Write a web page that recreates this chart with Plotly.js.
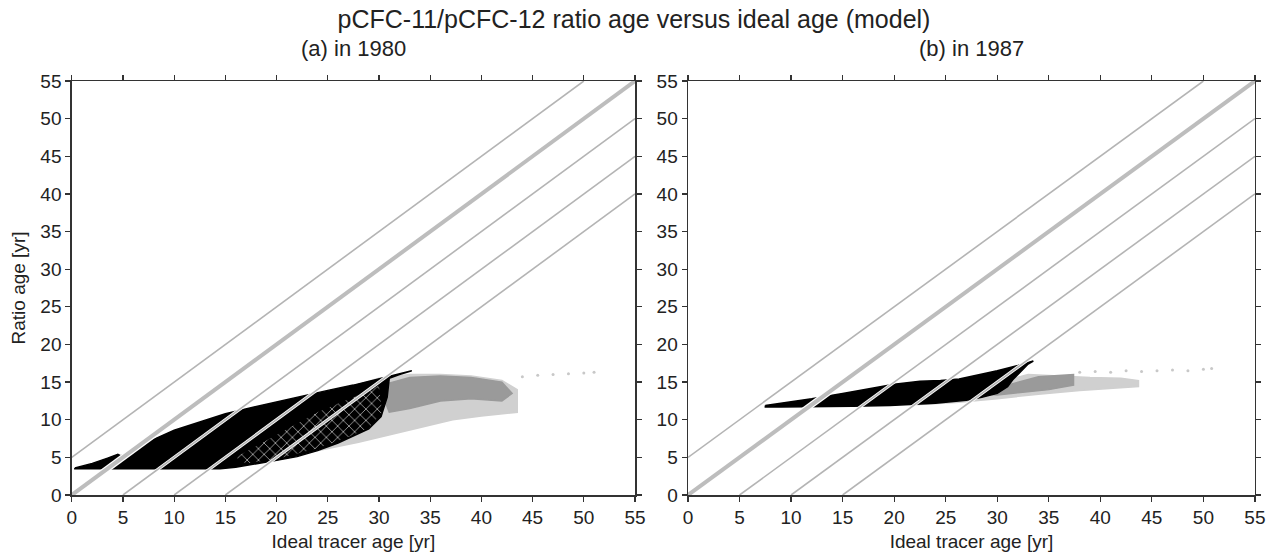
<!DOCTYPE html>
<html>
<head>
<meta charset="utf-8">
<script src="https://cdn.plot.ly/plotly-3.0.1.min.js"></script>
<style>html,body{margin:0;padding:0;background:#fff;}#chart{width:1268px;height:556px;}</style>
</head>
<body>
<div id="chart"></div>
<script>
// ---- Data ----
// Reference lines: ratio age = ideal age + offset
const lineOffsets = [5, 0, -5, -10, -15];

// Panel (a) 1980 — outlines of the point clouds
const lightA_x = [14, 18, 23, 28, 33, 37.2, 40, 43.5, 43.5, 42, 39, 36, 33, 30, 25];
const lightA_y = [3.7, 4.5, 5.6, 7.0, 8.6, 10.0, 10.5, 11.0, 14.0, 15.2, 15.8, 16.0, 16.0, 15.5, 13.5];
const medA_x = [30, 33, 36, 39, 42, 43, 42, 39, 36, 33, 31];
const medA_y = [14.5, 15.6, 15.8, 15.6, 15.0, 13.5, 12.5, 12.8, 12.5, 11.5, 11.0];
const blackA_x = [0.3, 2, 3.5, 4.5, 4.8, 6, 8, 10, 12.5, 15, 17.5, 20, 22.5, 25, 27.5, 29.5, 31, 33.2, 32, 31, 30.8, 30.2, 29, 27, 26, 24, 22, 20, 18, 16, 14.5, 10, 5, 0.3];
const blackA_y = [3.6, 4.2, 4.9, 5.4, 5.2, 6.0, 7.4, 8.6, 9.7, 10.8, 11.6, 12.4, 13.1, 13.9, 14.6, 15.3, 15.8, 16.5, 16.0, 15.5, 13.0, 10.4, 8.8, 7.6, 6.9, 5.9, 5.1, 4.6, 4.1, 3.7, 3.5, 3.5, 3.5, 3.5];
const hatchA_x = [16, 20, 24, 28, 30, 30.3, 29, 27, 24, 20, 17];
const hatchA_y = [5.0, 8.0, 11.0, 13.3, 14.5, 11.0, 8.9, 7.7, 6.2, 4.8, 4.2];
const tailA_x = [44, 45.5, 47, 48.5, 50, 51];
const tailA_y = [15.7, 15.9, 16.0, 16.1, 16.2, 16.3];

// Panel (b) 1987
const lightB_x = [22, 26, 30, 34, 38, 41, 43.7, 43.7, 42, 39, 36, 33];
const lightB_y = [12.0, 12.3, 12.8, 13.4, 13.9, 14.2, 14.4, 15.2, 15.5, 15.6, 15.8, 16.0];
const medB_x = [29, 31, 34, 37.4, 37.4, 35, 32, 30];
const medB_y = [13.4, 14.6, 15.7, 16.0, 14.6, 14.0, 13.6, 13.3];
const blackB_x = [7.5, 9, 12, 15, 18, 20, 22.5, 24.5, 26.3, 28, 30, 32, 33.5, 33, 32, 31.5, 31, 30, 28.5, 27, 24, 21, 19.6, 16, 12, 9, 7.5];
const blackB_y = [11.9, 12.2, 12.8, 13.5, 14.2, 14.7, 15.1, 15.2, 15.4, 15.9, 16.5, 17.2, 17.8, 17.4, 16.0, 15.3, 14.4, 13.5, 13.0, 12.6, 12.2, 12.0, 11.9, 11.8, 11.7, 11.7, 11.7];
const tailB_x = [38, 39.5, 41, 42.5, 44, 45.5, 47, 48.5, 50, 50.8];
const tailB_y = [16.3, 16.4, 16.3, 16.5, 16.4, 16.5, 16.6, 16.5, 16.7, 16.8];

const tickVals = [0,5,10,15,20,25,30,35,40,45,50,55];

// ---- Build traces ----
const FONT = 'Liberation Sans, Arial, Helvetica, sans-serif';
function poly(x, y, color, xa, ya, extra) {
  return Object.assign({x: x.concat([x[0]]), y: y.concat([y[0]]), xaxis: xa, yaxis: ya, mode: 'lines',
    fill: 'toself', fillcolor: color, line: {color: color, width: 1.5}, hoverinfo: 'skip', showlegend: false}, extra || {});
}
function dots(x, y, color, xa, ya) {
  return {x: x, y: y, xaxis: xa, yaxis: ya, mode: 'markers', marker: {color: color, size: 3},
    hoverinfo: 'skip', showlegend: false};
}
function refLines(xa, ya) {
  const out = [];
  lineOffsets.forEach(function (c) {
    const x0 = Math.max(0, -c), x1 = Math.min(55, 55 - c);
    const thick = (c === 0);
    out.push({x: [x0, x1], y: [x0 + c, x1 + c], xaxis: xa, yaxis: ya, mode: 'lines',
      line: {color: '#ffffff', width: thick ? 6.5 : 3.2}, hoverinfo: 'skip', showlegend: false});
    out.push({x: [x0, x1], y: [x0 + c, x1 + c], xaxis: xa, yaxis: ya, mode: 'lines',
      line: {color: thick ? '#bdbdbd' : '#b4b4b4', width: thick ? 4 : 1.6}, hoverinfo: 'skip', showlegend: false});
  });
  return out;
}

const traces = [
  poly(lightA_x, lightA_y, '#d0d0d0', 'x', 'y'),
  dots(tailA_x, tailA_y, '#c8c8c8', 'x', 'y'),
  poly(medA_x, medA_y, '#9a9a9a', 'x', 'y'),
  poly(blackA_x, blackA_y, '#000000', 'x', 'y'),
  poly(hatchA_x, hatchA_y, '#000000', 'x', 'y', {line: {width: 0, color: '#000'},
     fillpattern: {shape: 'x', bgcolor: '#000000', fgcolor: '#a8a8a8', size: 8, solidity: 0.2}}),
  poly(lightB_x, lightB_y, '#d0d0d0', 'x2', 'y2'),
  dots(tailB_x, tailB_y, '#c8c8c8', 'x2', 'y2'),
  poly(medB_x, medB_y, '#9a9a9a', 'x2', 'y2'),
  poly(blackB_x, blackB_y, '#000000', 'x2', 'y2')
].concat(refLines('x', 'y'), refLines('x2', 'y2'));

function axis(extra) {
  return Object.assign({range: [0, 55], tickvals: tickVals, ticktext: tickVals.map(String),
    showgrid: false, zeroline: false, showline: true, linecolor: '#333', linewidth: 1.5,
    ticks: 'outside', ticklen: 5, tickwidth: 1.2, tickcolor: '#333', mirror: 'ticks',
    tickfont: {family: FONT, size: 19, color: '#222'}, fixedrange: true}, extra);
}

const layout = {
  width: 1268, height: 556,
  margin: {l: 0, r: 0, t: 0, b: 0},
  paper_bgcolor: '#ffffff', plot_bgcolor: '#ffffff',
  font: {family: FONT, color: '#222'},
  title: {text: 'pCFC-11/pCFC-12 ratio age versus ideal age (model)', x: 0.5, xanchor: 'center',
    y: 0.966, yanchor: 'middle', font: {family: FONT, size: 25, color: '#222'}},
  xaxis: axis({domain: [0.0566, 0.5008], anchor: 'y',
    title: {text: 'Ideal tracer age [yr]', font: {family: FONT, size: 19, color: '#222'}, standoff: 7}}),
  yaxis: axis({domain: [0.1097, 0.8543], anchor: 'x',
    title: {text: 'Ratio age [yr]', font: {family: FONT, size: 19, color: '#222'}, standoff: 9}}),
  xaxis2: axis({domain: [0.5426, 0.9897], anchor: 'y2',
    title: {text: 'Ideal tracer age [yr]', font: {family: FONT, size: 19, color: '#222'}, standoff: 7}}),
  yaxis2: axis({domain: [0.1097, 0.8543], anchor: 'x2'}),
  annotations: [
    {text: '(a) in 1980', xref: 'paper', yref: 'paper', x: 0.2787, y: 0.912, xanchor: 'center', yanchor: 'middle',
      showarrow: false, font: {family: FONT, size: 22, color: '#222'}},
    {text: '(b) in 1987', xref: 'paper', yref: 'paper', x: 0.7662, y: 0.912, xanchor: 'center', yanchor: 'middle',
      showarrow: false, font: {family: FONT, size: 22, color: '#222'}}
  ]
};

Plotly.newPlot('chart', traces, layout, {displayModeBar: false, staticPlot: true});
</script>
</body>
</html>
